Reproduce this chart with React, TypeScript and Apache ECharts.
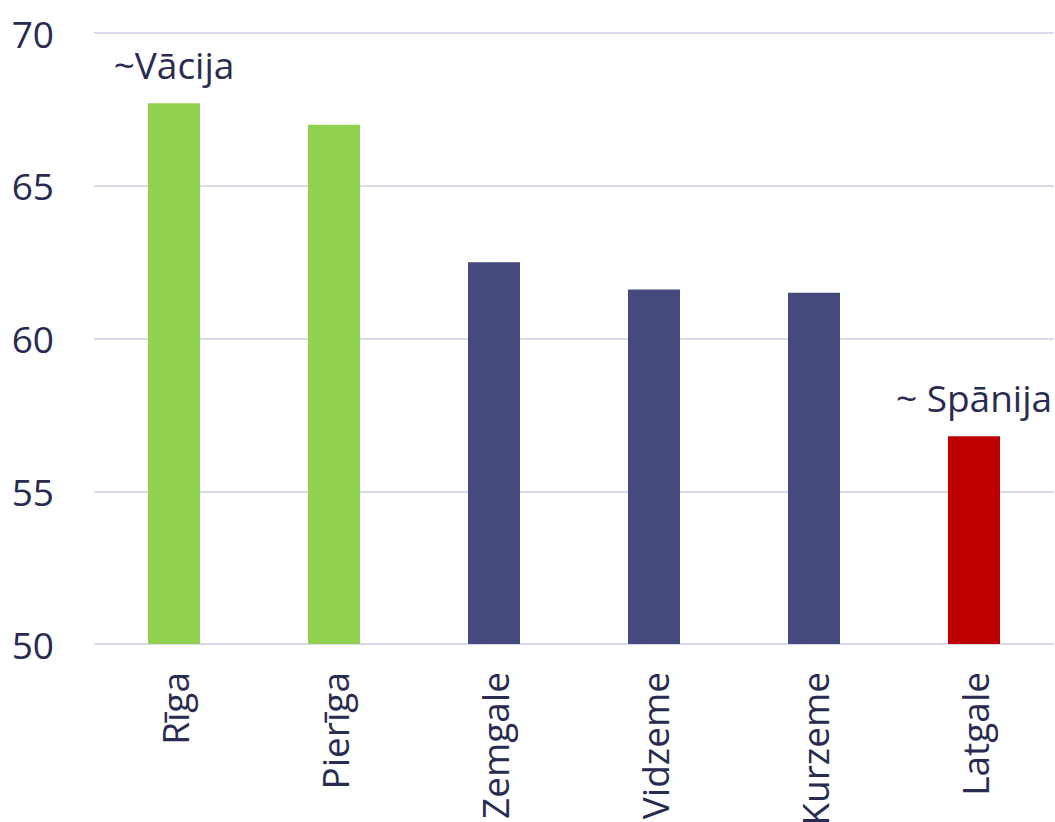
import React, { useEffect, useRef } from "react";
import * as echarts from "echarts";

const categories = ["Rīga", "Pierīga", "Zemgale", "Vidzeme", "Kurzeme", "Latgale"];
const values = [67.7, 67.0, 62.5, 61.6, 61.5, 56.8];
const barColors = ["#92D050", "#92D050", "#46497E", "#46497E", "#46497E", "#C00000"];
const barNotes = ["~Vācija", "", "", "", "", "~ Spānija"];

const TEXT = "#2A2B50";
const FONT = "'Open Sans', sans-serif";

export default function App() {
  const ref = useRef<HTMLDivElement>(null);
  useEffect(() => {
    document.body.style.margin = "0";
    const chart = echarts.init(ref.current!, null, { renderer: "svg" });
    chart.setOption({
      animation: false,
      grid: {
        left: 94,
        right: 1,
        top: 33,
        bottom: 178,
        containLabel: false,
        outerBoundsMode: "none",
      },
      xAxis: {
        type: "category",
        data: categories,
        axisLine: { show: false },
        axisTick: { show: false },
        axisLabel: {
          rotate: 90,
          margin: 28,
          color: TEXT,
          fontFamily: FONT,
          fontSize: 37,
          interval: 0,
        },
      },
      yAxis: {
        type: "value",
        min: 50,
        max: 70,
        interval: 5,
        axisLine: { show: false },
        axisTick: { show: false },
        splitLine: { lineStyle: { color: "#D9D9EC", width: 2 } },
        axisLabel: {
          margin: 40,
          color: TEXT,
          fontFamily: FONT,
          fontSize: 37,
        },
      },
      series: [
        {
          type: "bar",
          barWidth: "32.5%",
          data: values.map((v, i) => ({
            value: v,
            itemStyle: { color: barColors[i] },
            label: {
              show: barNotes[i] !== "",
              formatter: barNotes[i],
            },
          })),
          label: {
            position: "top",
            distance: 20,
            color: TEXT,
            fontFamily: FONT,
            fontSize: 37,
          },
        },
      ],
    });
    return () => chart.dispose();
  }, []);
  return <div ref={ref} style={{ width: 1055, height: 822 }} />;
}
